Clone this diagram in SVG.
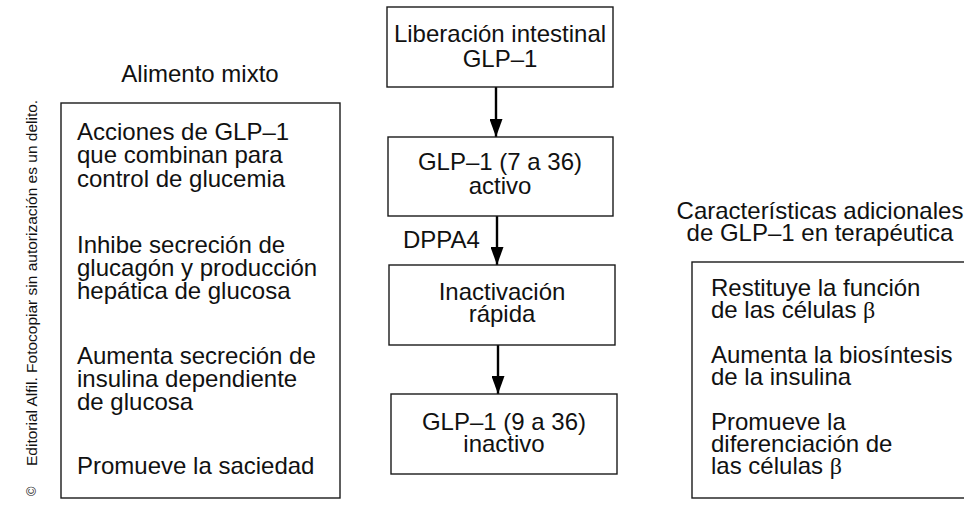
<svg xmlns="http://www.w3.org/2000/svg" width="964" height="508" viewBox="0 0 964 508">
<style>
text{font-family:"Liberation Sans",Arial,Helvetica,sans-serif;fill:#111;}
.t{font-size:24px;}
.c{text-anchor:middle;}
.box{fill:#fff;stroke:#1a1a1a;stroke-width:1.4;}
.arr{stroke:#000;stroke-width:2.4;fill:none;}
.b{font-family:"Liberation Serif","Times New Roman",serif;}
.wm{font-size:15.5px;}
</style>
<defs>
<marker id="ah" markerUnits="userSpaceOnUse" markerWidth="19" markerHeight="13" refX="18" refY="6.5" orient="auto" viewBox="0 0 19 13">
<path d="M0,0 L18,6.5 L0,13 Z" fill="#000"/>
</marker>
</defs>
<rect width="964" height="508" fill="#fff"/>

<g id="watermark">
<text class="wm" transform="translate(37,466) rotate(-90)">Editorial Alfil. Fotocopiar sin autorización es un delito.</text>
<text class="wm" style="font-size:13px" transform="translate(36,496) rotate(-90)">©</text>
</g>

<g id="connectors">
<line class="arr" x1="496" y1="87" x2="496" y2="137" marker-end="url(#ah)"/>
<line class="arr" x1="497" y1="216" x2="497" y2="265" marker-end="url(#ah)"/>
<line class="arr" x1="498" y1="345" x2="498" y2="394" marker-end="url(#ah)"/>
<text class="t" x="403" y="248">DPPA4</text>
</g>

<g id="n-liberacion">
<rect class="box" x="387" y="7" width="226" height="80"/>
<text class="t c" x="500" y="42">Liberación intestinal</text>
<text class="t c" x="500" y="67">GLP–1</text>
</g>

<g id="n-activo">
<rect class="box" x="388" y="137" width="225" height="79"/>
<text class="t c" x="500" y="170">GLP–1 (7 a 36)</text>
<text class="t c" x="500" y="194">activo</text>
</g>

<g id="n-inactivacion">
<rect class="box" x="389" y="265" width="226" height="80"/>
<text class="t c" x="502" y="300">Inactivación</text>
<text class="t c" x="502" y="322">rápida</text>
</g>

<g id="n-inactivo">
<rect class="box" x="391" y="394" width="226" height="80"/>
<text class="t c" x="504" y="430">GLP–1 (9 a 36)</text>
<text class="t c" x="504" y="452">inactivo</text>
</g>

<g id="n-alimento">
<text class="t c" x="200" y="82">Alimento mixto</text>
<rect class="box" x="61" y="103" width="279" height="395"/>
<text class="t" x="77" y="140">Acciones de GLP–1</text>
<text class="t" x="77" y="163">que combinan para</text>
<text class="t" x="77" y="187">control de glucemia</text>
<text class="t" x="77" y="253">Inhibe secreción de</text>
<text class="t" x="77" y="276">glucagón y producción</text>
<text class="t" x="77" y="299">hepática de glucosa</text>
<text class="t" x="77" y="364">Aumenta secreción de</text>
<text class="t" x="77" y="387">insulina dependiente</text>
<text class="t" x="77" y="410">de glucosa</text>
<text class="t" x="77" y="474">Promueve la saciedad</text>
</g>

<g id="n-caracteristicas">
<text class="t c" x="820" y="219">Características adicionales</text>
<text class="t c" x="820" y="241">de GLP–1 en terapéutica</text>
<rect class="box" x="692" y="262" width="290" height="236"/>
<text class="t" x="711" y="296">Restituye la función</text>
<text class="t" x="711" y="318">de las células <tspan class="b">β</tspan></text>
<text class="t" x="711" y="363">Aumenta la biosíntesis</text>
<text class="t" x="711" y="385">de la insulina</text>
<text class="t" x="711" y="430">Promueve la</text>
<text class="t" x="711" y="452">diferenciación de</text>
<text class="t" x="711" y="474">las células <tspan class="b">β</tspan></text>
</g>
</svg>
